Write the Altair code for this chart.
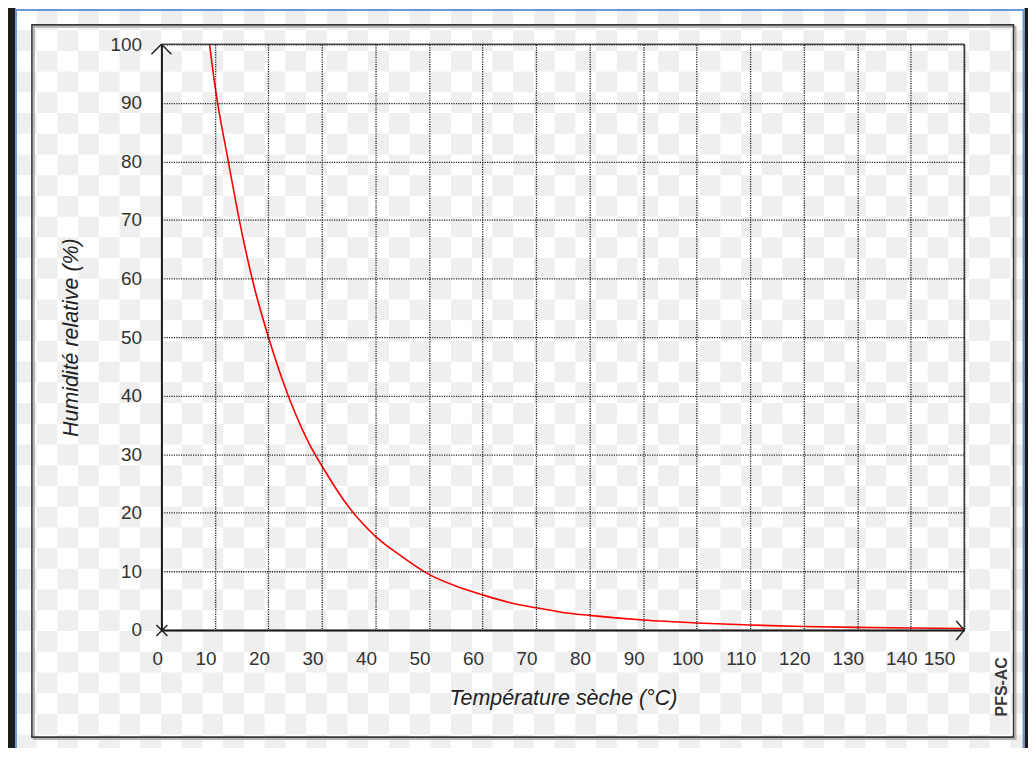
import altair as alt
import pandas as pd

# ---- data ----
temp_c = [9, 10, 12.5, 15, 17.5, 20, 22.5, 25, 27.5, 30, 35, 40, 45, 50, 55,
          60, 65, 70, 75, 80, 90, 100, 110, 120, 130, 140, 150]
rh_pct = [100, 93, 80, 68, 58, 50, 43, 37, 32, 28, 21, 16, 12.5, 9.5, 7.5,
          6.0, 4.7, 3.8, 3.0, 2.5, 1.7, 1.2, 0.85, 0.6, 0.45, 0.35, 0.25]
x_ticks = [0, 10, 20, 30, 40, 50, 60, 70, 80, 90, 100, 110, 120, 130, 140, 150]
y_ticks = [0, 10, 20, 30, 40, 50, 60, 70, 80, 90, 100]
x_title = "Température sèche (°C)"
y_title = "Humidité relative (%)"
credit = "PFS-AC"

W, H = 806, 588
FONT = "Liberation Sans"

curve = pd.DataFrame({"t": temp_c, "rh": rh_pct})
one = pd.DataFrame({"k": [0]})

# transparency checkerboard backdrop (cells indexed, placed through scales)
S = 20.8
cells = pd.DataFrame([
    {"c": c, "c2": c + 1, "r": r, "r2": r + 1}
    for c in range(50) for r in range(37) if (c + r) % 2 == 1
])
checker = alt.Chart(cells).mark_rect(color="#efefef").encode(
    x=alt.X("c:Q", scale=alt.Scale(domain=[0, 1], range=[-146, -146 + S], nice=False, zero=False), axis=None),
    x2="c2:Q",
    y=alt.Y("r:Q", scale=alt.Scale(domain=[0, 1], range=[-35, -35 + S], nice=False, zero=False), axis=None),
    y2="r2:Q",
)


def box(x, x2, y, y2, **kw):
    return alt.Chart(one).mark_rect(**kw).encode(
        x=alt.value(x), x2=alt.value(x2), y=alt.value(y), y2=alt.value(y2))


def seg(x, y, x2, y2, color="#222222", width=1.5):
    return alt.Chart(one).mark_rule(color=color, strokeWidth=width).encode(
        x=alt.value(x), y=alt.value(y), x2=alt.value(x2), y2=alt.value(y2))


dark = "#1c1c1c"
left_band = box(-160, -146.5, -40, 720, color=dark)
right_band = box(866.5, 880, -40, 720, color=dark)
blue_frame = box(-146, 865.5, -34.5, 709, fill="transparent", stroke="#6a98dc", strokeWidth=2)
panel_shadow = box(-128, 857.5, -17.5, 697.5, fill="transparent", stroke="#b4b4b4", strokeWidth=2)
panel_border = box(-130, 855.5, -19.5, 695.5, fill="transparent", stroke="#383838", strokeWidth=1.6)

top_frame = seg(0, 0, W, 0, color="#505050", width=1.6)
right_frame = seg(W, 0, W, H, color="#505050", width=1.6)

arrows = [
    seg(-10, 10, 0, 0), seg(0, 0, 10, 10),
    seg(W - 8, H - 9, W, H), seg(W, H, W - 8, H + 10),
    seg(-5, H - 5, 6, H + 6), seg(-5, H + 6, 6, H - 5),
]

line = alt.Chart(curve).mark_line(color="#ff0000", strokeWidth=1.6, interpolate="monotone").encode(
    x=alt.X("t:Q", scale=alt.Scale(domain=[0, 150], nice=False, zero=False),
            axis=alt.Axis(values=x_ticks, title=x_title, grid=True, ticks=False, tickSize=0,
                          labelPadding=20, labelOffset=-9.5, titleY=75, titleBaseline="alphabetic",
                          zindex=1)),
    y=alt.Y("rh:Q", scale=alt.Scale(domain=[0, 100], nice=False, zero=False),
            axis=alt.Axis(values=y_ticks, title=y_title, grid=True, ticks=False, tickSize=0,
                          labelPadding=20, titleAngle=270, titleX=-84, titleY=H / 2,
                          titleBaseline="alphabetic", titleAlign="center", zindex=1)),
)

credit_text = alt.Chart(one).mark_text(
    text=credit, angle=270, font=FONT, fontSize=16, fontWeight="bold", color="#3a3a3a",
    align="center", baseline="middle",
).encode(x=alt.value(844), y=alt.value(645))

chart = alt.layer(
    checker, left_band, right_band, blue_frame, panel_shadow, panel_border,
    line, top_frame, right_frame, *arrows, credit_text,
).resolve_scale(x="independent", y="independent").properties(
    width=W, height=H,
    padding={"left": 154, "top": 35, "right": 64, "bottom": 117},
    autosize=alt.AutoSizeParams(type="none"),
    background="white",
).configure_view(
    stroke="transparent"
).configure_axis(
    labelFont=FONT, labelFontSize=19, labelColor="#333333",
    titleFont=FONT, titleFontSize=21.5, titleFontStyle="italic", titleFontWeight="normal",
    titleColor="#222222",
    domainColor="#1a1a1a", domainWidth=2,
    gridColor="#262626", gridWidth=1.3, gridDash=[1.2, 1.2], gridOpacity=1,
)

chart.save("out.html", embed_options={"renderer": "svg", "actions": False})
